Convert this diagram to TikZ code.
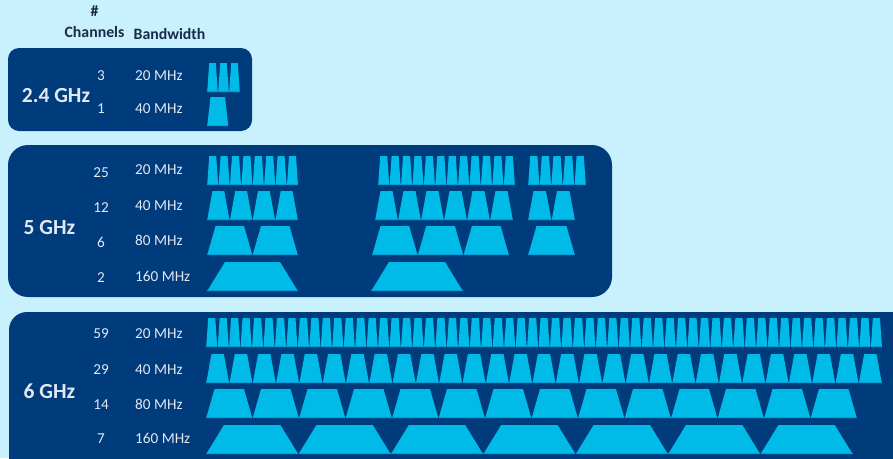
\documentclass[tikz,border=0pt]{standalone}
\usepackage{fontspec}
\setmainfont{Carlito}

\definecolor{fondo}{RGB}{200,241,253}
\definecolor{marino}{RGB}{0,59,124}
\definecolor{celeste}{RGB}{0,187,231}
\definecolor{celesteosc}{RGB}{0,160,214}
\definecolor{textoclaro}{RGB}{226,232,242}
\definecolor{textoosc}{RGB}{28,42,74}

\tikzset{
  canal/.style={fill=celeste},
  borde/.style={draw=celesteosc, line width=0.7pt},
  bloque/.style={fill=marino},
  cabecera/.style={text=textoosc, font=\fontsize{15.8}{18}\selectfont\bfseries, inner sep=0pt, anchor=base},
  banda/.style={text=textoclaro, font=\fontsize{21.5}{24}\selectfont\bfseries, inner sep=0pt, anchor=base},
  numero/.style={text=textoclaro, font=\fontsize{15.2}{18}\selectfont, inner sep=0pt, anchor=base},
  ancho/.style={text=textoclaro, font=\fontsize{15.2}{18}\selectfont, inner sep=0pt, anchor=base west}
}

% fila de canales: x inicial, y superior, cantidad, ancho, margen superior
\newcommand{\fila}[5]{%
  \foreach \k in {1,...,#3}{
    \pgfmathsetmacro{\xa}{#1+(\k-1)*#4}
    \fill[canal] (\xa+0.2,#2+29) -- (\xa+#5,#2) -- (\xa+#4-#5,#2) -- (\xa+#4-0.2,#2+29) -- cycle;
    \draw[borde] (\xa+0.2,#2+28.6) -- (\xa+#4-0.2,#2+28.6);
  }
}

\begin{document}
\begin{tikzpicture}[x=1pt, y=-1pt]
        \useasboundingbox (0,0) rectangle (893,458);
        \clip (0,0) rectangle (893,458);
        \fill[fondo] (0,0) rectangle (893,458);

        % Cabecera
        \node[cabecera] (almohadilla) at (94.5,16) {\#};
        \node[cabecera] (canales) at (94.5,37) {Channels};
        \node[cabecera] (anchobanda) at (169.5,39.5) {Bandwidth};

        % Banda de 2.4 GHz
        \fill[bloque, rounded corners=11pt] (8,48) rectangle (252,131);
        \node[banda] (b24) at (56,102) {2.4 GHz};
        \node[numero] (n24a) at (101,80.5) {3};
        \node[numero] (n24b) at (101,113) {1};
        \node[ancho] (a24a) at (135,80.5) {20 MHz};
        \node[ancho] (a24b) at (135,113) {40 MHz};
        \fila{207}{63}{3}{11}{2.2}
        \fila{207}{97}{1}{21.5}{3.5}

        % Banda de 5 GHz
        \fill[bloque, rounded corners=20pt] (8,145) rectangle (612,297);
        \node[banda] (b5) at (49.5,234) {5 GHz};
        \node[numero] (n5a) at (101,177) {25};
        \node[numero] (n5b) at (101,212.5) {12};
        \node[numero] (n5c) at (101,247) {6};
        \node[numero] (n5d) at (101,282) {2};
        \node[ancho] (a5a) at (135,174.5) {20 MHz};
        \node[ancho] (a5b) at (135,210.5) {40 MHz};
        \node[ancho] (a5c) at (135,245.5) {80 MHz};
        \node[ancho] (a5d) at (135,281) {160 MHz};
        \fila{207}{156}{8}{11.4}{2.2}
        \fila{378}{156}{12}{11.42}{2.2}
        \fila{528}{156}{5}{11.6}{2.2}
        \fila{207}{191}{4}{22.75}{5.5}
        \fila{375}{191}{6}{23}{5.5}
        \fila{528}{191}{2}{23.5}{5.5}
        \fila{207}{226}{2}{45.5}{8.5}
        \fila{372}{226}{3}{45.7}{8.5}
        \fila{528}{226}{1}{47}{8.5}
        \fila{207}{262}{1}{91}{18}
        \fila{371}{262}{1}{92}{18}

        % Banda de 6 GHz
        \fill[bloque, rounded corners=18pt] (9,312) rectangle (910,490);
        \node[banda] (b6) at (49.5,398) {6 GHz};
        \node[numero] (n6a) at (101,338) {59};
        \node[numero] (n6b) at (101,374) {29};
        \node[numero] (n6c) at (101,409) {14};
        \node[numero] (n6d) at (101,443) {7};
        \node[ancho] (a6a) at (135,338) {20 MHz};
        \node[ancho] (a6b) at (135,374) {40 MHz};
        \node[ancho] (a6c) at (135,409) {80 MHz};
        \node[ancho] (a6d) at (135,443) {160 MHz};
        \fila{206}{318}{59}{11.46}{2.2}
        \fila{206}{354}{29}{23.31}{5.5}
        \fila{206}{389}{14}{46.5}{8.5}
        \fila{206}{425}{7}{92.4}{18}
    \end{tikzpicture}
\end{document}
